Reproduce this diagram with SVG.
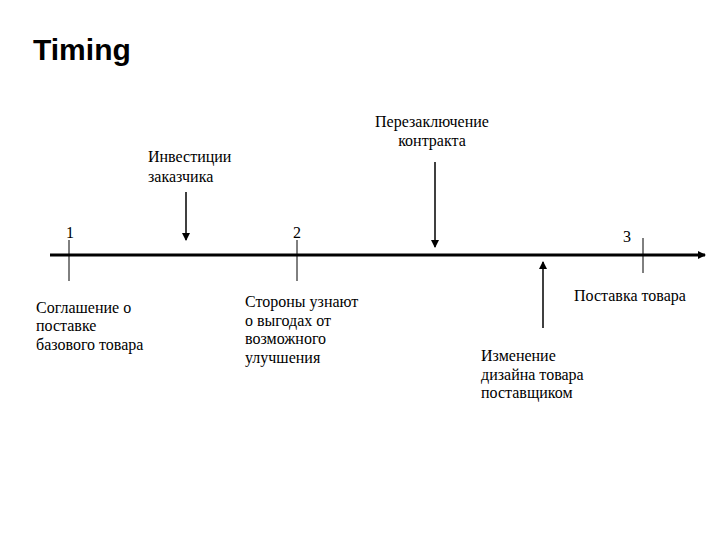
<svg xmlns="http://www.w3.org/2000/svg" width="720" height="540" viewBox="0 0 720 540">
<style>
.t{font-family:"Liberation Serif","Times New Roman",serif;font-size:16px;fill:#000}
.n{font-family:"Liberation Serif","Times New Roman",serif;font-size:16px;fill:#000}
.l{stroke:#000;stroke-width:1;fill:none}
.a{stroke:#000;stroke-width:1.5;fill:none;marker-end:url(#ah)}
</style>
<defs>
<marker id="ah" markerWidth="8" markerHeight="8" refX="7" refY="4" orient="auto" markerUnits="userSpaceOnUse"><path d="M0,0 L8,4 L0,8 Z" fill="#000"/></marker>
</defs>
<rect width="720" height="540" fill="#fff"/>
<text x="33" y="60" font-family="Liberation Sans,Arial,sans-serif" font-size="30" font-weight="bold">Timing</text>
<g id="connectors">
<line x1="50" y1="255" x2="705" y2="255" stroke="#000" stroke-width="3" marker-end="url(#ah)"/>
<line class="l" x1="69" y1="240" x2="69" y2="281"/>
<line class="l" x1="297" y1="240" x2="297" y2="281"/>
<line class="l" x1="643" y1="238" x2="643" y2="273"/>
<line class="a" x1="186" y1="192" x2="186" y2="240"/>
<line class="a" x1="435" y1="162" x2="435" y2="247"/>
<line class="a" x1="543" y1="328" x2="543" y2="262"/>
</g>
<g id="n1"><text class="n" x="66" y="238">1</text></g>
<g id="n2"><text class="n" x="293" y="238">2</text></g>
<g id="n3"><text class="n" x="623" y="242">3</text></g>
<g id="invest"><text class="t" x="148" y="162">Инвестиции</text><text class="t" x="148" y="182">заказчика</text></g>
<g id="pere"><text class="t" x="432" y="127" text-anchor="middle">Перезаключение</text><text class="t" x="432" y="146" text-anchor="middle">контракта</text></g>
<g id="sogl"><text class="t" x="36" y="313">Соглашение о</text><text class="t" x="36" y="331">поставке</text><text class="t" x="36" y="350">базового товара</text></g>
<g id="storony"><text class="t" x="245" y="307">Стороны узнают</text><text class="t" x="245" y="326">о выгодах от</text><text class="t" x="245" y="344">возможного</text><text class="t" x="245" y="363">улучшения</text></g>
<g id="postavka"><text class="t" x="574" y="301">Поставка товара</text></g>
<g id="izm"><text class="t" x="481" y="361">Изменение</text><text class="t" x="481" y="380">дизайна товара</text><text class="t" x="481" y="398">поставщиком</text></g>
</svg>
